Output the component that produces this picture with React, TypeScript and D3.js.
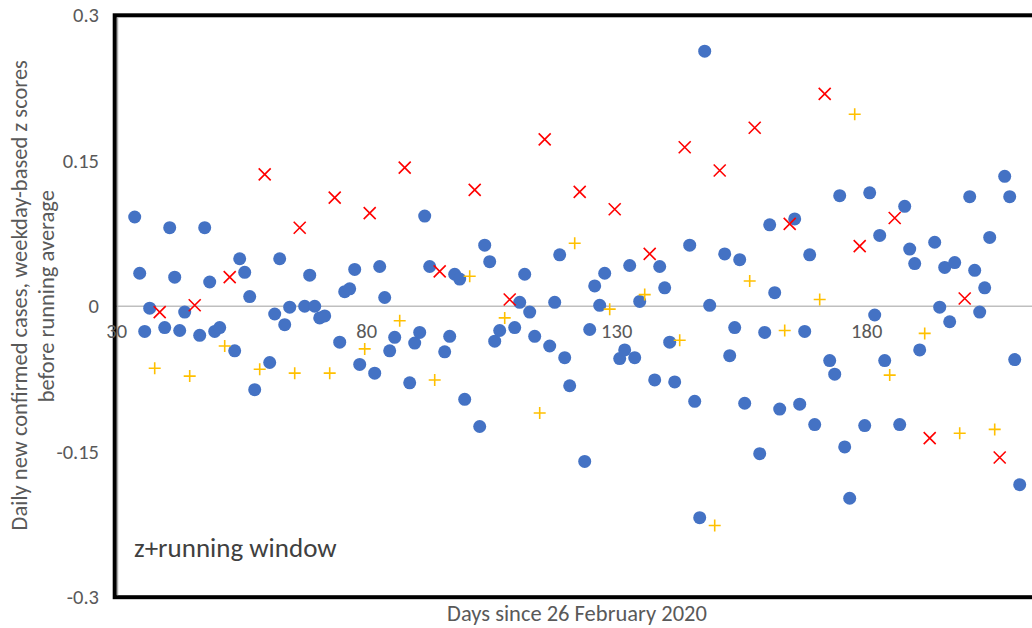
import React from 'react'
import * as d3 from 'd3'

// days since 26 Feb 2020, z scores (blue = ordinary weekdays)
const blueDays = [34, 35, 36, 37, 40, 41, 42, 43, 44, 47, 48, 49, 50, 51, 54, 55, 56, 57, 58, 61, 62, 63, 64, 65, 68, 69, 70, 71, 72, 75, 76, 77, 78, 79, 82, 83, 84, 85, 86, 89, 90, 91, 92, 93, 96, 97, 98, 99, 100, 103, 104, 105, 106, 107, 110, 111, 112, 113, 114, 117, 118, 119, 120, 121, 124, 125, 126, 127, 128, 131, 132, 133, 134, 135, 138, 139, 140, 141, 142, 145, 146, 147, 148, 149, 152, 153, 154, 155, 156, 159, 160, 161, 162, 163, 166, 167, 168, 169, 170, 173, 174, 175, 176, 177, 180, 181, 182, 183, 184, 187, 188, 189, 190, 191, 194, 195, 196, 197, 198, 201, 202, 203, 204, 205, 208, 209, 210, 211]
const blueValues = [0.092, 0.034, -0.026, -0.002, -0.022, 0.081, 0.030, -0.025, -0.006, -0.030, 0.081, 0.025, -0.026, -0.022, -0.046, 0.049, 0.035, 0.010, -0.086, -0.058, -0.008, 0.049, -0.019, -0.001, 0.000, 0.032, 0.000, -0.012, -0.010, -0.037, 0.015, 0.018, 0.038, -0.060, -0.069, 0.041, 0.009, -0.046, -0.032, -0.079, -0.038, -0.027, 0.093, 0.041, -0.047, -0.031, 0.033, 0.028, -0.096, -0.124, 0.063, 0.046, -0.036, -0.025, -0.022, 0.004, 0.033, -0.006, -0.031, -0.041, 0.004, 0.053, -0.053, -0.082, -0.160, -0.024, 0.021, 0.001, 0.034, -0.054, -0.045, 0.042, -0.053, 0.005, -0.076, 0.041, 0.019, -0.037, -0.078, 0.063, -0.098, -0.218, 0.263, 0.001, 0.054, -0.051, -0.022, 0.048, -0.100, -0.152, -0.027, 0.084, 0.014, -0.106, 0.090, -0.101, -0.026, 0.053, -0.122, -0.056, -0.070, 0.114, -0.145, -0.198, -0.123, 0.117, -0.009, 0.073, -0.056, -0.122, 0.103, 0.059, 0.044, -0.045, 0.066, -0.001, 0.040, -0.016, 0.045, 0.113, 0.037, -0.006, 0.019, 0.071, 0.134, 0.113, -0.055, -0.184]

const redDays = [39, 46, 53, 60, 67, 74, 81, 88, 95, 102, 109, 116, 123, 130, 137, 144, 151, 158, 165, 172, 179, 186, 193, 200, 207]
const redValues = [-0.006, 0.001, 0.030, 0.136, 0.081, 0.112, 0.096, 0.143, 0.036, 0.120, 0.007, 0.172, 0.118, 0.100, 0.054, 0.164, 0.140, 0.184, 0.085, 0.219, 0.062, 0.091, -0.136, 0.008, -0.156]

const orangeDays = [38, 45, 52, 59, 66, 73, 80, 87, 94, 101, 108, 115, 122, 129, 136, 143, 150, 157, 164, 171, 178, 185, 192, 199, 206]
const orangeValues = [-0.064, -0.072, -0.041, -0.065, -0.069, -0.069, -0.044, -0.015, -0.076, 0.031, -0.012, -0.110, 0.065, -0.003, 0.012, -0.035, -0.226, 0.026, -0.025, 0.007, 0.198, -0.071, -0.028, -0.131, -0.127]

const xTicks = [30, 80, 130, 180]
const yTicks = [-0.3, -0.15, 0, 0.15, 0.3]

const W = 1032
const H = 628
const font = 'Carlito, Calibri, Lato, "Open Sans", sans-serif'

export default function App() {
  const x = d3.scaleLinear().domain([30, 230]).range([114.7, 1114.7])
  const y = d3.scaleLinear().domain([-0.3, 0.3]).range([597.2, 15.3])
  const s = 6 // half size of x / + markers

  const blue = blueDays.map((d, i) => ({ d, v: blueValues[i] }))
  const red = redDays.map((d, i) => ({ d, v: redValues[i] }))
  const orange = orangeDays.map((d, i) => ({ d, v: orangeValues[i] }))

  return (
    <div style={{ position: 'absolute', left: 0, top: 0 }}>
      <svg width={W} height={H} style={{ display: 'block', background: '#fff' }}>
        {/* zero line */}
        <line x1={x(30)} x2={W} y1={y(0)} y2={y(0)} stroke="#bfbfbf" strokeWidth={1.5} />

        {/* plot frame */}
        <rect x={x(30)} y={y(0.3)} width={1200} height={y(-0.3) - y(0.3)} fill="none" stroke="#000" strokeWidth={4} />
        <line x1={x(30) + 3} x2={x(30) + 3} y1={y(0.3) + 2} y2={y(-0.3) - 2} stroke="#9a9a9a" strokeWidth={1} />

        {/* y tick labels */}
        {yTicks.map(t => (
          <text key={t} x={99} y={y(t)} dy="0.35em" textAnchor="end" fontFamily={font} fontSize={20.5} fill="#595959">
            {t === 0 ? '0' : String(t)}
          </text>
        ))}

        {/* x tick labels, sitting under the zero line */}
        {xTicks.map(t => (
          <text key={t} x={x(t) + 2} y={y(0) + 32} textAnchor="middle" fontFamily={font} fontSize={20.5} fill="#595959">
            {t}
          </text>
        ))}

        {/* markers */}
        {blue.map(p => (
          <circle key={'b' + p.d} cx={x(p.d)} cy={y(p.v)} r={6.5} fill="#4472c4" />
        ))}
        {red.map(p => {
          const cx = x(p.d), cy = y(p.v)
          return (
            <path key={'r' + p.d}
              d={`M${cx - s},${cy - s}L${cx + s},${cy + s}M${cx - s},${cy + s}L${cx + s},${cy - s}`}
              stroke="#ff0000" strokeWidth={1.6} fill="none" />
          )
        })}
        {orange.map(p => {
          const cx = x(p.d), cy = y(p.v)
          return (
            <path key={'o' + p.d}
              d={`M${cx - s},${cy}L${cx + s},${cy}M${cx},${cy - s}L${cx},${cy + s}`}
              stroke="#ffc000" strokeWidth={1.6} fill="none" />
          )
        })}

        {/* annotation */}
        <text x={134} y={557} fontFamily={font} fontSize={27} fill="#404040">z+running window</text>

        {/* axis titles */}
        <text x={577} y={621} textAnchor="middle" fontFamily={font} fontSize={22.5} fill="#595959">
          Days since 26 February 2020
        </text>
        <text transform={`translate(27,${y(0) - 11}) rotate(-90)`} textAnchor="middle" fontFamily={font} fontSize={22.5} fill="#595959">
          Daily new confirmed cases, weekday-based z scores
        </text>
        <text transform={`translate(54,${y(0) - 10}) rotate(-90)`} textAnchor="middle" fontFamily={font} fontSize={22.5} fill="#595959">
          before running average
        </text>
      </svg>
    </div>
  )
}
